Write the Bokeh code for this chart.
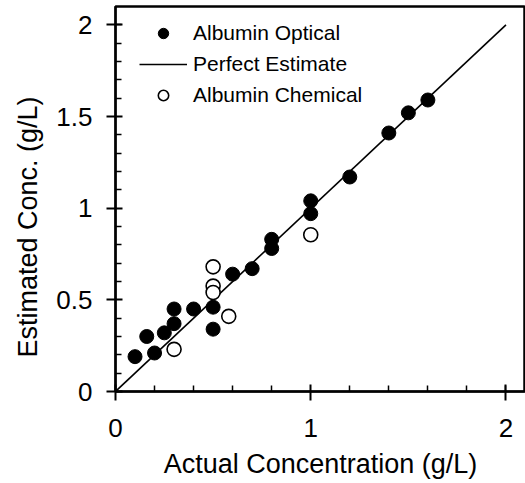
from bokeh.plotting import figure
from bokeh.models import (Range1d, FixedTicker, Legend, LegendItem, Title)
from bokeh.embed import file_html
from bokeh.resources import INLINE

# ---- data ----
optical_x = [0.10, 0.16, 0.20, 0.25, 0.30, 0.30, 0.40, 0.50, 0.50, 0.60, 0.70,
             0.80, 0.80, 1.00, 1.00, 1.20, 1.40, 1.50, 1.60]
optical_y = [0.19, 0.30, 0.21, 0.32, 0.37, 0.45, 0.45, 0.46, 0.34, 0.64, 0.67,
             0.78, 0.83, 0.97, 1.04, 1.17, 1.41, 1.52, 1.59]
chemical_x = [0.30, 0.50, 0.50, 0.50, 0.58, 1.00]
chemical_y = [0.23, 0.68, 0.575, 0.54, 0.41, 0.855]
perfect_x = [0, 2]
perfect_y = [0, 2]

x_major = [0, 1, 2]
x_minor = [0.2, 0.4, 0.6, 0.8, 1.2, 1.4, 1.6, 1.8, 2.0]
y_major = [0, 0.5, 1, 1.5, 2]
y_minor = [0.1, 0.2, 0.3, 0.4, 0.6, 0.7, 0.8, 0.9, 1.1, 1.2, 1.3, 1.4,
           1.6, 1.7, 1.8, 1.9, 2.0]

x_title = "Actual Concentration (g/L)"
y_title = "Estimated Conc. (g/L)"

FONT = "Liberation Sans"

p = figure(width=525, height=483, output_backend="svg", toolbar_location=None,
           x_range=Range1d(0, 2.1), y_range=Range1d(0, 2.1),
           x_axis_label=x_title,
           min_border_left=115, min_border_right=0, min_border_top=6,
           min_border_bottom=92)
p.grid.visible = False
p.outline_line_color = "black"
p.outline_line_width = 2.5
p.background_fill_color = "white"
p.border_fill_color = "white"

for ax, maj, mnr in ((p.xaxis[0], x_major, x_minor), (p.yaxis[0], y_major, y_minor)):
    ax.ticker = FixedTicker(ticks=maj, minor_ticks=mnr)
    ax.axis_line_width = 2
    ax.axis_line_color = "black"
    ax.major_tick_line_width = 2
    ax.minor_tick_line_width = 1.5
    ax.major_tick_out = 9
    ax.major_tick_in = 7
    ax.minor_tick_out = 0
    ax.minor_tick_in = 6
    ax.major_label_text_font = FONT
    ax.major_label_text_font_size = "26px"
    ax.major_label_text_color = "black"
    ax.axis_label_text_font = FONT
    ax.axis_label_text_font_size = "27px"
    ax.axis_label_text_font_style = "normal"
    ax.axis_label_text_color = "black"

p.xaxis[0].major_label_standoff = 18
p.yaxis[0].major_label_standoff = 14
p.xaxis[0].axis_label_standoff = 9
p.yaxis[0].major_label_overrides = {0: "0", 1: "1", 2: "2"}

ytitle = Title(text=y_title, align="left", offset=34, standoff=20,
               vertical_align="middle",
               text_font=FONT, text_font_size="27px", text_font_style="normal",
               text_color="black")
p.add_layout(ytitle, "left")

line_r = p.line(perfect_x, perfect_y, line_color="black", line_width=1.6)
opt_r = p.scatter(optical_x, optical_y, marker="circle", size=14,
                  fill_color="black", line_color="black", line_width=1)
chem_r = p.scatter(chemical_x, chemical_y, marker="circle", size=14,
                   fill_color="white", line_color="black", line_width=1.6)

legend = Legend(items=[LegendItem(label="Albumin Optical", renderers=[opt_r]),
                       LegendItem(label="Perfect Estimate", renderers=[line_r]),
                       LegendItem(label="Albumin Chemical", renderers=[chem_r])],
                location=(24, 283), glyph_width=48, glyph_height=26,
                label_standoff=6, spacing=5, padding=10, margin=0,
                border_line_color=None, background_fill_alpha=0,
                label_text_font=FONT, label_text_font_size="21px",
                label_text_color="black")
p.add_layout(legend, "center")

open("out.html", "w").write(file_html(p, INLINE))
